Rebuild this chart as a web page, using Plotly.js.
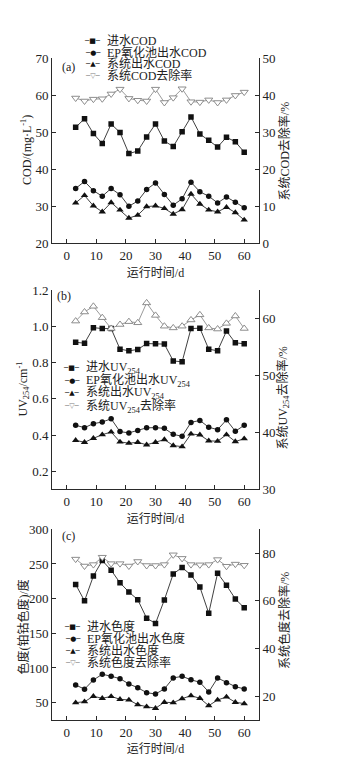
<!DOCTYPE html>
<html>
<head>
<meta charset="utf-8">
<script src="https://cdn.plot.ly/plotly-3.0.1.min.js"></script>
<style>html,body{margin:0;padding:0;background:#fff;}#chart{width:357px;height:757px;}</style>
</head>
<body>
<div id="chart"></div>
<script>
// ---- data ----
const days = [3, 6, 9, 12, 15, 18, 21, 24, 27, 30, 33, 36, 39, 42, 45, 48, 51, 54, 57, 60];

const codIn   = [51.3, 53.6, 49.6, 46.9, 52.2, 49.9, 44.2, 44.9, 48.7, 52.2, 47.6, 46.1, 50.1, 54.1, 49.5, 47.8, 46.0, 48.6, 47.4, 44.6];
const codEP   = [34.8, 36.7, 34.2, 32.7, 34.8, 33.1, 30.0, 31.4, 34.5, 36.3, 33.2, 30.3, 32.0, 36.5, 33.9, 32.7, 30.9, 32.5, 31.1, 29.6];
const codOut  = [30.9, 32.9, 30.1, 28.5, 31.0, 29.0, 26.8, 27.6, 29.9, 30.1, 29.4, 27.9, 29.1, 33.3, 30.6, 29.0, 28.5, 29.7, 28.3, 26.3];
const codRate = [39.2, 38.4, 38.9, 39.0, 40.3, 41.6, 39.1, 38.6, 38.4, 41.6, 38.0, 39.3, 41.7, 38.2, 38.1, 38.7, 38.0, 38.7, 39.9, 40.8];

const uvIn   = [0.913, 0.908, 0.994, 0.989, 0.989, 0.875, 0.866, 0.873, 0.906, 0.905, 0.903, 0.810, 0.805, 0.989, 0.991, 0.875, 0.866, 0.975, 0.910, 0.905];
const uvEP   = [0.454, 0.441, 0.463, 0.472, 0.490, 0.419, 0.412, 0.425, 0.440, 0.441, 0.437, 0.404, 0.393, 0.470, 0.481, 0.443, 0.430, 0.484, 0.421, 0.454];
const uvOut  = [0.371, 0.360, 0.382, 0.402, 0.417, 0.362, 0.355, 0.360, 0.346, 0.360, 0.375, 0.342, 0.336, 0.406, 0.401, 0.368, 0.366, 0.402, 0.364, 0.380];
const uvRate = [59.6, 61.2, 62.2, 60.2, 58.3, 59.0, 59.5, 59.3, 62.8, 60.6, 58.7, 58.4, 58.7, 59.8, 60.7, 58.4, 58.2, 59.2, 60.5, 58.3];

const colIn   = [220.5, 196.8, 232.7, 255.0, 241.0, 222.8, 209.6, 198.5, 171.8, 164.3, 198.2, 235.7, 245.0, 234.0, 216.9, 178.9, 236.8, 219.3, 199.6, 186.8];
const colEP   = [75.5, 69.5, 82.7, 91.0, 88.1, 84.6, 77.0, 71.6, 64.4, 62.5, 69.8, 85.6, 88.0, 83.0, 79.4, 65.4, 85.6, 78.8, 73.1, 69.8];
const colOut  = [50.0, 51.4, 59.2, 56.3, 59.0, 54.9, 53.9, 47.1, 44.2, 41.9, 50.6, 50.0, 55.8, 60.1, 56.3, 45.7, 53.9, 58.2, 50.6, 48.6];
const colRate = [77.5, 74.6, 75.2, 78.3, 75.6, 75.6, 74.6, 76.5, 74.8, 74.8, 75.2, 79.3, 77.8, 75.2, 75.1, 75.2, 77.3, 74.5, 75.4, 74.9];

const xTicks = [0, 10, 20, 30, 40, 50, 60];

const legendA = ['进水COD', 'EP氧化池出水COD', '系统出水COD', '系统COD去除率'];
const legendB = ['进水UV<sub>254</sub>', 'EP氧化池出水UV<sub>254</sub>', '系统出水UV<sub>254</sub>', '系统UV<sub>254</sub>去除率'];
const legendC = ['进水色度', 'EP氧化池出水色度', '系统出水色度', '系统色度去除率'];
const yTitles = ['COD/(mg·L<sup>-1</sup>)', '系统COD去除率/%', 'UV<sub>254</sub>/cm<sup>-1</sup>', '系统UV<sub>254</sub>去除率/%', '色度(铂钴色度)/度', '系统色度去除率/%'];

// ---- styles ----
const FONT = "'Liberation Serif', 'Times New Roman', 'Noto Sans CJK SC', serif";
const TXT = '#222';
const LINE = '#2a2a2a';
const GREY = '#808080';
const W = 357, H = 757;
const px = v => v / W;
const py = v => 1 - v / H;

function series(x, y, sym, xa, ya) {
  return {x: x, y: y, xaxis: xa, yaxis: ya, type: 'scatter', mode: 'lines+markers', showlegend: false,
    line: {color: LINE, width: 0.9},
    marker: {symbol: sym, size: sym === 'triangle-up' ? 6.5 : 5.5, color: '#111', line: {width: 0}}};
}
function rate(x, y, sym, xa, ya) {
  return {x: x, y: y, xaxis: xa, yaxis: ya, type: 'scatter', mode: 'lines+markers', showlegend: false,
    line: {color: GREY, width: 0.8},
    marker: {symbol: sym, size: 7, color: '#fff', line: {color: GREY, width: 0.9}}};
}

const traces = [
  series(days, codIn, 'square', 'x', 'y'),
  series(days, codEP, 'circle', 'x', 'y'),
  series(days, codOut, 'triangle-up', 'x', 'y'),
  rate(days, codRate, 'triangle-down', 'x', 'y2'),
  series(days, uvIn, 'square', 'x2', 'y3'),
  series(days, uvEP, 'circle', 'x2', 'y3'),
  series(days, uvOut, 'triangle-up', 'x2', 'y3'),
  rate(days, uvRate, 'triangle-up', 'x2', 'y4'),
  series(days, colIn, 'square', 'x3', 'y5'),
  series(days, colEP, 'circle', 'x3', 'y5'),
  series(days, colOut, 'triangle-up', 'x3', 'y5'),
  rate(days, colRate, 'triangle-down', 'x3', 'y6')
];

const xDom = [px(52), px(259)];
function xax(anchor) {
  return {domain: xDom, anchor: anchor, range: [-5, 65], tickvals: xTicks, ticks: 'inside', ticklen: 4,
    tickcolor: LINE, showline: true, linecolor: LINE, linewidth: 1, showgrid: false, zeroline: false,
    tickfont: {family: FONT, size: 13, color: TXT},
    title: {text: '运行时间/d', font: {family: FONT, size: 12, color: TXT}, standoff: 6}};
}
function yax(dom, range, tv, anchor, side, overlay) {
  const a = {domain: dom, anchor: anchor, range: range, tickvals: tv, ticks: 'inside', ticklen: 4,
    tickcolor: LINE, showline: true, linecolor: LINE, linewidth: 1, showgrid: false, zeroline: false,
    tickfont: {family: FONT, size: 13, color: TXT}};
  if (side) a.side = side;
  if (overlay) a.overlaying = overlay;
  return a;
}

const domA = [py(243.3), py(58)];
const domB = [py(489.3), py(290.4)];
const domC = [py(720), py(529.3)];

const symsA = ['─■─', '─●─', '─▲─', '─▽─'];
function legendRows(xt, ys, labels) {
  const out = [];
  for (let i = 0; i < labels.length; i++) {
    const grey = i === 3;
    out.push({xref: 'paper', yref: 'paper', x: px(xt - 4), y: py(ys[i]), xanchor: 'right', yanchor: 'middle',
      showarrow: false, text: symsA[i], borderpad: 0,
      font: {family: 'DejaVu Sans', size: 7, color: grey ? GREY : '#111'}});
    out.push({xref: 'paper', yref: 'paper', x: px(xt), y: py(ys[i]), xanchor: 'left', yanchor: 'middle',
      showarrow: false, text: labels[i], borderpad: 0, font: {family: FONT, size: 12, color: TXT}});
  }
  return out;
}
function tag(x, y, t, ang) {
  const a = {xref: 'paper', yref: 'paper', x: px(x), y: py(y), xanchor: 'center', yanchor: 'middle',
    showarrow: false, text: t, borderpad: 0, font: {family: FONT, size: 12, color: TXT}};
  if (ang) a.textangle = ang;
  return a;
}

const annotations = []
  .concat(legendRows(106, [41, 52.5, 64, 75.5], legendA))
  .concat(legendRows(85, [368.3, 380.5, 393, 406], legendB))
  .concat(legendRows(86, [626.7, 638.5, 650.7, 662.7], legendC))
  .concat([tag(68.5, 67, '(a)'), tag(63.5, 296, '(b)'), tag(68, 536, '(c)')])
  .concat([
    tag(26, 150, yTitles[0], -90), tag(283.5, 151, yTitles[1], -90),
    tag(22.5, 389, yTitles[2], -90), tag(283.5, 398, yTitles[3], -90),
    tag(22.5, 627, yTitles[4], -90), tag(284, 621, yTitles[5], -90)
  ]);

const layout = {
  width: W, height: H,
  margin: {l: 0, r: 0, t: 0, b: 0},
  paper_bgcolor: '#fff', plot_bgcolor: 'rgba(0,0,0,0)',
  showlegend: false,
  font: {family: FONT, size: 12, color: TXT},
  xaxis: xax('y'),
  yaxis: yax(domA, [20, 70], [20, 30, 40, 50, 60, 70], 'x'),
  yaxis2: yax(domA, [0, 50], [0, 10, 20, 30, 40, 50], 'x', 'right', 'y'),
  xaxis2: xax('y3'),
  yaxis3: yax(domB, [0.1, 1.2], [0.2, 0.4, 0.6, 0.8, 1.0, 1.2], 'x2'),
  yaxis4: yax(domB, [30, 65], [30, 40, 50, 60], 'x2', 'right', 'y3'),
  xaxis3: xax('y5'),
  yaxis5: yax(domC, [25, 300], [50, 100, 150, 200, 250, 300], 'x3'),
  yaxis6: yax(domC, [10, 90], [20, 40, 60, 80], 'x3', 'right', 'y5'),
  annotations: annotations
};
layout.yaxis3.ticktext = ['0.2', '0.4', '0.6', '0.8', '1.0', '1.2'];

Plotly.newPlot('chart', traces, layout, {staticPlot: true, displayModeBar: false});
</script>
</body>
</html>
